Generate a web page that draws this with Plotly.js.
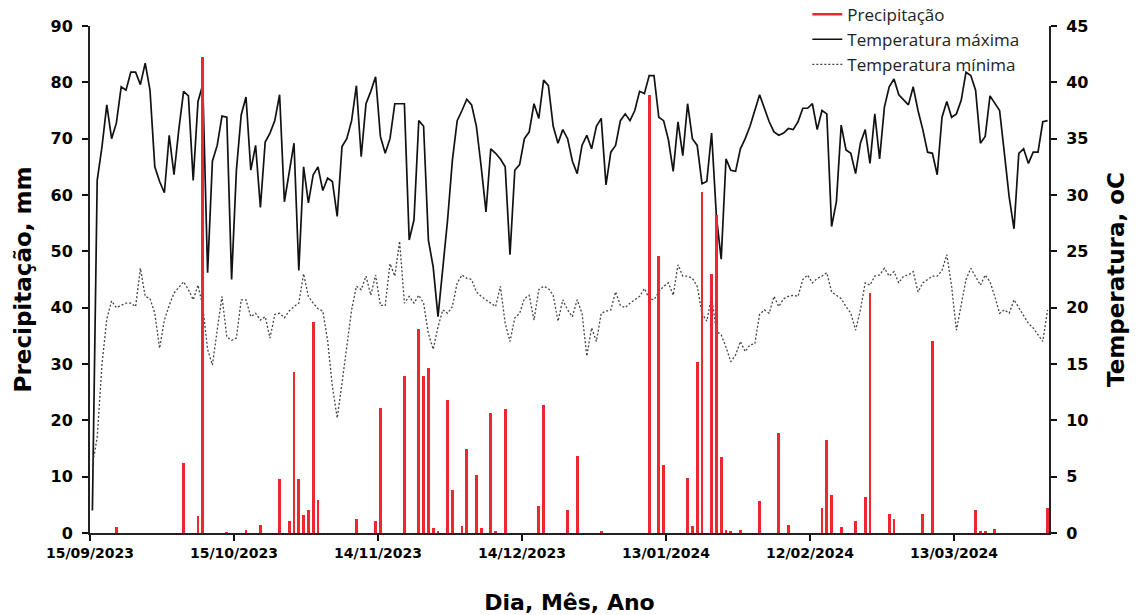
<!DOCTYPE html>
<html>
<head>
<meta charset="utf-8">
<script src="https://cdn.plot.ly/plotly-3.0.1.min.js"></script>
<style>html,body{margin:0;padding:0;background:#fff;}#chart{width:1146px;height:615px;}</style>
</head>
<body>
<div id="chart"></div>
<script>
// ---- data (daily, from 15/09/2023) ----
const startDate = '2023-09-15';

const precipitacao = [
  0, 0, 0, 0, 0, 1.0, 0, 0, 0, 0,
  0, 0, 0, 0, 0, 0, 0, 0, 0, 12.4,
  0, 0, 3.0, 84.5, 0, 0, 0, 0, 0.2, 0,
  0, 0, 0.6, 0, 0, 1.5, 0, 0, 0, 9.5,
  0, 2.1, 28.5, 9.5, 3.2, 4.0, 37.4, 5.9, 0, 0,
  0, 0, 0, 0, 0, 2.4, 0, 0, 0, 2.1,
  22.2, 0, 0, 0, 0, 27.9, 0, 0, 36.2, 27.9,
  29.3, 0.8, 0.3, 0, 23.6, 7.7, 0, 1.2, 14.9, 0,
  10.3, 0.8, 0, 21.3, 0.3, 0, 22.0, 0, 0, 0,
  0, 0, 0, 4.8, 22.8, 0, 0, 0, 0, 4.1,
  0, 13.6, 0, 0, 0, 0, 0.3, 0, 0, 0,
  0, 0, 0, 0, 0, 0, 77.7, 0, 49.2, 12.1,
  0, 0, 0, 0, 9.8, 1.3, 30.3, 60.6, 0, 46.0,
  56.4, 13.5, 0.6, 0.3, 0, 0.6, 0, 0, 0, 5.6,
  0, 0, 0, 17.7, 0, 1.5, 0, 0, 0, 0,
  0, 0, 4.4, 16.5, 6.8, 0, 1.0, 0, 0, 2.1,
  0, 6.4, 42.6, 0, 0, 0, 3.3, 2.5, 0, 0,
  0, 0, 0, 3.4, 0, 34.0, 0, 0, 0, 0,
  0, 0, 0, 0, 4.0, 0.3, 0.3, 0, 0.7, 0,
  0, 0, 0, 0, 0, 0, 0, 0, 0, 4.4
];

const temperaturaMaxima = [
  2.0, 31.3, 34.3, 38.0, 35.0, 36.4, 39.6, 39.3, 40.9, 40.9,
  39.8, 41.7, 39.3, 32.5, 31.2, 30.2, 35.3, 31.8, 35.8, 39.2,
  38.8, 31.3, 38.3, 39.8, 23.1, 33.0, 34.4, 37.0, 36.9, 22.5,
  32.2, 37.1, 38.7, 32.2, 34.4, 28.9, 34.7, 35.5, 36.6, 38.9,
  29.4, 31.9, 34.6, 23.3, 32.5, 29.3, 31.8, 32.5, 30.4, 31.5,
  31.2, 28.1, 34.3, 35.0, 36.6, 39.7, 33.4, 38.1, 39.2, 40.5,
  35.2, 33.7, 35.0, 38.1, 38.1, 38.1, 26.0, 27.8, 36.6, 36.1,
  26.0, 23.6, 19.2, 23.3, 27.8, 33.1, 36.6, 37.5, 38.5, 38.0,
  36.1, 32.5, 28.5, 34.1, 33.7, 33.2, 32.5, 24.7, 32.2, 32.7,
  35.0, 35.6, 38.1, 36.8, 40.2, 39.7, 36.1, 34.6, 35.8, 35.0,
  33.0, 31.9, 34.4, 35.3, 34.1, 36.1, 36.8, 30.9, 33.8, 34.4,
  36.6, 37.2, 36.6, 37.5, 39.2, 39.0, 40.6, 40.6, 36.9, 36.6,
  34.9, 32.1, 36.5, 33.5, 38.1, 35.0, 34.4, 31.0, 31.2, 35.5,
  28.1, 24.3, 33.2, 32.2, 32.1, 34.1, 35.0, 36.1, 37.5, 38.9,
  37.7, 36.5, 35.6, 35.3, 35.5, 35.9, 35.8, 36.5, 37.7, 37.7,
  38.1, 35.8, 37.5, 37.2, 27.2, 29.4, 36.2, 34.0, 33.7, 31.9,
  34.6, 35.8, 32.8, 37.2, 33.2, 37.8, 39.6, 40.3, 38.9, 38.4,
  38.0, 39.6, 37.5, 35.8, 33.8, 33.7, 31.8, 36.9, 38.3, 36.9,
  37.2, 38.4, 40.9, 40.6, 39.3, 34.6, 35.2, 38.8, 38.1, 37.5,
  33.7, 29.8, 27.0, 33.7, 34.1, 32.8, 33.8, 33.8, 36.5, 36.6
];

const temperaturaMinima = [
  6.0, 8.5, 15.0, 19.0, 20.6, 20.0, 20.2, 20.4, 20.4, 20.1,
  23.5, 21.0, 20.8, 19.5, 16.4, 18.9, 20.2, 21.3, 21.8, 22.3,
  21.6, 20.7, 22.0, 20.1, 16.3, 14.9, 18.0, 21.0, 17.4, 17.1,
  17.3, 20.7, 20.7, 19.2, 19.5, 18.9, 19.2, 17.3, 19.4, 19.5,
  19.1, 19.7, 20.1, 20.4, 23.0, 21.0, 20.4, 19.9, 19.7, 17.1,
  13.0, 10.2, 13.3, 16.7, 19.8, 21.9, 21.6, 22.8, 21.1, 22.9,
  20.2, 20.2, 23.9, 22.8, 25.9, 20.4, 21.0, 20.4, 21.1, 20.4,
  17.7, 16.3, 18.3, 19.8, 19.5, 20.1, 22.2, 22.9, 22.6, 22.5,
  21.4, 21.0, 20.7, 20.4, 20.1, 21.9, 18.6, 17.0, 19.1, 19.5,
  20.8, 21.1, 18.9, 21.6, 21.9, 21.7, 21.1, 18.8, 20.7, 19.8,
  19.2, 20.7, 19.5, 15.7, 18.2, 17.0, 19.5, 19.7, 19.8, 21.4,
  20.2, 20.0, 20.4, 20.7, 21.0, 21.7, 20.8, 20.7, 21.4, 21.9,
  22.2, 21.1, 23.8, 22.8, 22.8, 22.6, 21.9, 19.5, 18.8, 21.0,
  17.9, 17.6, 16.5, 15.2, 15.8, 17.0, 16.1, 16.7, 16.8, 19.4,
  19.8, 19.5, 21.0, 20.1, 20.8, 21.0, 21.1, 21.0, 22.5, 22.9,
  22.2, 22.6, 22.8, 23.1, 21.4, 21.1, 20.8, 20.1, 19.5, 18.0,
  19.8, 22.2, 22.0, 22.8, 22.9, 23.5, 22.8, 23.2, 22.2, 22.8,
  22.9, 23.2, 21.4, 22.2, 22.5, 22.8, 22.8, 23.3, 24.7, 21.9,
  18.0, 20.1, 22.5, 23.5, 22.8, 22.0, 22.9, 22.3, 21.0, 19.5,
  19.8, 19.5, 20.7, 20.0, 19.2, 18.6, 18.2, 17.6, 17.0, 19.8
];

const tickDates  = ['2023-09-15','2023-10-15','2023-11-14','2023-12-14','2024-01-13','2024-02-12','2024-03-13'];
const tickLabels = ['15/09/2023','15/10/2023','14/11/2023','14/12/2023','13/01/2024','12/02/2024','13/03/2024'];
const precipTicks = [0,10,20,30,40,50,60,70,80,90];
const tempTicks = [0,5,10,15,20,25,30,35,40,45];

// daily dates (each value plotted at midday of its day)
function pad(n){return (n<10?'0':'')+n;}
const dias = precipitacao.map(function(_, i){
  const p = startDate.split('-').map(Number);
  const d = new Date(Date.UTC(p[0], p[1]-1, p[2]+i));
  return d.getUTCFullYear()+'-'+pad(d.getUTCMonth()+1)+'-'+pad(d.getUTCDate())+' 12:00';
});

const RED = 'rgb(236,40,44)';
const FONT = 'DejaVu Sans, Liberation Sans, sans-serif';
const xRange = ['2023-09-15 00:00', '2024-04-01 19:00'];

const traces = [
  {x:[null], y:[null], type:'scatter', mode:'lines', name:'Precipitação',
   line:{color:RED, width:2.5}, yaxis:'y2', hoverinfo:'skip'},
  {x:dias, y:temperaturaMaxima, type:'scatter', mode:'lines', name:'Temperatura máxima',
   line:{color:'#111', width:1.7}, yaxis:'y'},
  {x:dias, y:temperaturaMinima, type:'scatter', mode:'lines', name:'Temperatura mínima',
   line:{color:'#444', width:1.3, dash:'2px,2px'}, yaxis:'y'},
  {x:dias, y:precipitacao, type:'bar', name:'Precipitação', showlegend:false,
   marker:{color:RED, line:{width:0}}, width:0.6*86400000, yaxis:'y2'}
];

const tickFont = {family:FONT, size:16, color:'#000', weight:'bold'};
const titleFont = {family:FONT, size:23, color:'#000', weight:'bold'};

const layout = {
  width:1146, height:615,
  margin:{l:90, r:97, t:26, b:82, pad:0, autoexpand:false},
  paper_bgcolor:'#fff', plot_bgcolor:'#fff',
  showlegend:true,
  bargap:0,
  legend:{x:0.748, y:1.058, xanchor:'left', yanchor:'top', bgcolor:'rgba(0,0,0,0)',
          font:{family:'Open Sans, Noto Sans, sans-serif', size:17, color:'#222'},
          tracegroupgap:0, itemwidth:30},
  xaxis:{type:'date', range:xRange, tickvals:tickDates, ticktext:tickLabels,
         ticks:'outside', ticklen:6, tickwidth:2, tickcolor:'#111',
         showline:true, linecolor:'#222', linewidth:2, showgrid:false, zeroline:false,
         tickfont:{family:FONT, size:14, color:'#000', weight:'bold'},
         title:{text:'Dia, Mês, Ano', font:{family:FONT, size:22, color:'#000', weight:'bold'}, standoff:36}},
  xaxis2:{type:'date', range:xRange, tickvals:tickDates, overlaying:'x', anchor:'y', side:'bottom',
          ticks:'inside', ticklen:6, tickwidth:2, tickcolor:'#111', showticklabels:false,
          showline:false, showgrid:false, zeroline:false},
  yaxis:{side:'right', range:[0,45], tickvals:tempTicks, ticks:'outside', ticklen:6, tickwidth:2,
         tickcolor:'#111', showline:true, linecolor:'#222', linewidth:2, showgrid:false, zeroline:false,
         ticklabelstandoff:6,
         tickfont:tickFont, title:{text:'Temperatura, oC', font:titleFont, standoff:20}},
  yaxis2:{overlaying:'y', side:'left', range:[0,90], tickvals:precipTicks, ticks:'outside', ticklen:6, tickwidth:2,
          tickcolor:'#111', showline:true, linecolor:'#222', linewidth:2, showgrid:false, zeroline:false,
          ticklabelstandoff:6,
          tickfont:tickFont, title:{text:'Precipitação, mm', font:titleFont, standoff:12}},
  yaxis3:{overlaying:'y', side:'left', anchor:'x', range:[0,90], tickvals:precipTicks, ticks:'inside', ticklen:6,
          tickwidth:2, tickcolor:'#111', showticklabels:false, showline:false, showgrid:false, zeroline:false},
  yaxis4:{overlaying:'y', side:'right', anchor:'x', range:[0,45], tickvals:tempTicks, ticks:'inside', ticklen:6,
          tickwidth:2, tickcolor:'#111', showticklabels:false, showline:false, showgrid:false, zeroline:false}
};

Plotly.newPlot('chart', traces, layout, {displayModeBar:false, staticPlot:true});
</script>
</body>
</html>
